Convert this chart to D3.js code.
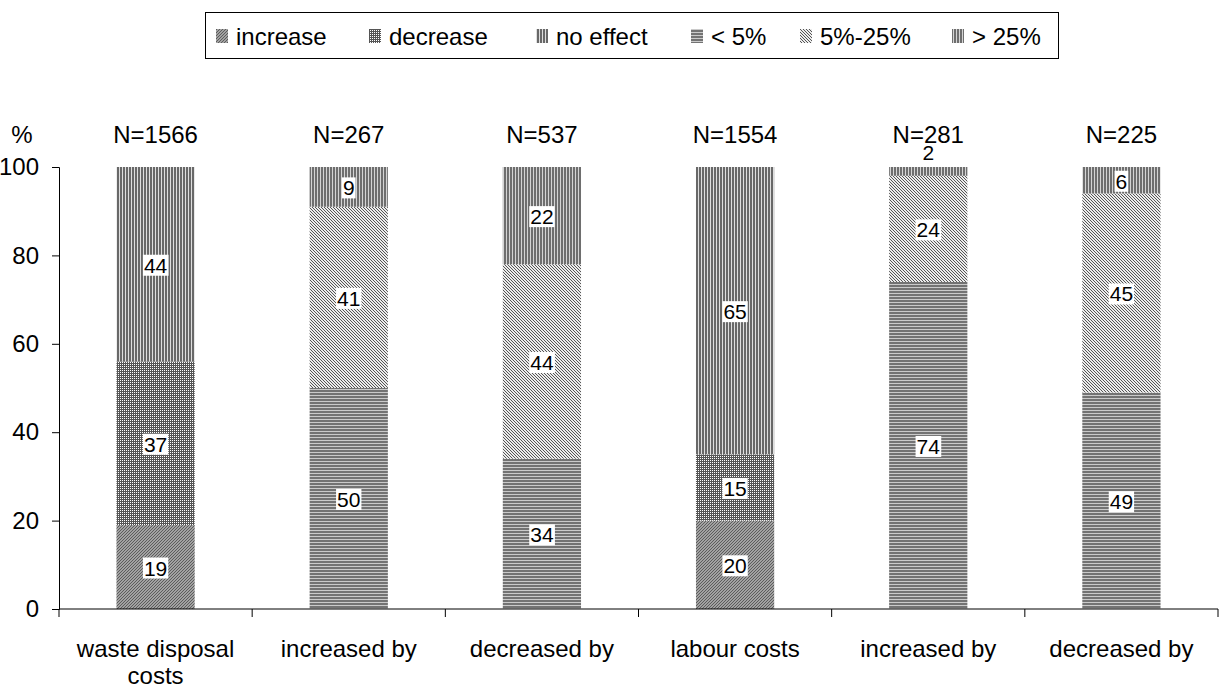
<!DOCTYPE html>
<html>
<head>
<meta charset="utf-8">
<style>
  body { margin: 0; background: #fff; }
  svg text { font-family: "Liberation Sans", Arial, sans-serif; fill: #000; }
</style>
</head>
<body>
<div id="container"></div>
<script src="https://cdn.jsdelivr.net/npm/d3@7"></script>
<script>
// categories along the x axis
const categories = ["waste disposal costs", "increased by", "decreased by", "labour costs", "increased by", "decreased by"];
const sampleN = [1566, 267, 537, 1554, 281, 225];

// legend / series keys
const seriesKeys = ["increase", "decrease", "no effect", "< 5%", "5%-25%", "> 25%"];

// which series each bar stacks (bottom to top)
const barSeries = [
  ["increase", "decrease", "no effect"],
  ["< 5%", "5%-25%", "> 25%"],
  ["< 5%", "5%-25%", "> 25%"],
  ["increase", "decrease", "no effect"],
  ["< 5%", "5%-25%", "> 25%"],
  ["< 5%", "5%-25%", "> 25%"]
];
const barValues = [
  [19, 37, 44],
  [50, 41, 9],
  [34, 44, 22],
  [20, 15, 65],
  [74, 24, 2],
  [49, 45, 6]
];
const yTicks = [0, 20, 40, 60, 80, 100];

const width = 1220, height = 686;
const margin = { left: 59, right: 2, top: 167, bottom: 77 };

const svg = d3.select("#container").append("svg")
  .attr("width", width).attr("height", height);

// fill patterns, one per series
const defs = svg.append("defs");
function pat(id, w, h, bg) {
  const p = defs.append("pattern").attr("id", id)
    .attr("patternUnits", "userSpaceOnUse").attr("width", w).attr("height", h);
  p.append("rect").attr("width", w).attr("height", h).attr("fill", bg);
  return p;
}
// increase: fine /// diagonal
let p = pat("p0", 3, 3, "#a2a2a2");
p.append("path").attr("d", "M0,3 L3,0 M-1,1 L1,-1 M2,4 L4,2").attr("stroke", "#5c5c5c").attr("stroke-width", 1);
// decrease: checker dots
p = pat("p1", 2, 2, "#555");
p.append("rect").attr("width", 1).attr("height", 1).attr("fill", "#fff");
// no effect: vertical stripes
p = pat("p2", 3, 3, "#686868");
p.append("rect").attr("x", 2).attr("width", 1).attr("height", 3).attr("fill", "#dedede");
// < 5%: horizontal stripes
p = pat("p3", 3, 3, "#737373");
p.append("rect").attr("y", 2).attr("width", 3).attr("height", 1).attr("fill", "#cacaca");
// 5%-25%: \\\ diagonal, lighter
p = pat("p4", 3, 3, "#ececec");
p.append("path").attr("d", "M0,0 L3,3 M-1,2 L1,4 M2,-1 L4,1").attr("stroke", "#555").attr("stroke-width", 1);
// > 25%: vertical stripes
p = pat("p5", 3, 3, "#6e6e6e");
p.append("rect").attr("x", 2).attr("width", 1).attr("height", 3).attr("fill", "#d4d4d4");

const fillOf = k => `url(#p${seriesKeys.indexOf(k)})`;

const x = d3.scaleBand()
  .domain(d3.range(categories.length))
  .range([margin.left, width - margin.right])
  .paddingInner(0).paddingOuter(0);
const barW = x.bandwidth() * 0.405;

const y = d3.scaleLinear().domain([0, 100]).range([height - margin.bottom, margin.top]);

// bars
categories.forEach((c, i) => {
  const cx = x(i) + x.bandwidth() / 2;
  let acc = 0;
  const segs = barValues[i].map((v, j) => {
    const s = { key: barSeries[i][j], v, y0: acc, y1: acc + v };
    acc += v;
    return s;
  });
  const g = svg.append("g");
  g.selectAll("rect").data(segs).enter().append("rect")
    .attr("x", cx - barW / 2)
    .attr("width", barW)
    .attr("y", d => y(d.y1))
    .attr("height", d => y(d.y0) - y(d.y1))
    .attr("fill", d => fillOf(d.key));

  // value labels
  segs.forEach(d => {
    const small = d.v < 4;
    const ly = small ? y(100) - 15 : (y(d.y0) + y(d.y1)) / 2 + 1;
    const t = g.append("text")
      .attr("x", cx).attr("y", ly)
      .attr("text-anchor", "middle").attr("dominant-baseline", "central")
      .style("font-size", "21px").text(d.v);
    const bb = t.node().getBBox();
    if (!small) {
      g.insert("rect", () => t.node())
        .attr("x", bb.x - 1).attr("y", bb.y + 1)
        .attr("width", bb.width + 2).attr("height", bb.height - 2)
        .attr("fill", "#fff");
    }
  });

  // N labels
  svg.append("text").attr("x", cx).attr("y", 134)
    .attr("text-anchor", "middle").attr("dominant-baseline", "central")
    .style("font-size", "24px").text("N=" + sampleN[i]);
});

// y axis
const yAxis = d3.axisLeft(y).tickValues(yTicks).tickSize(7).tickPadding(13);
const ya = svg.append("g").attr("transform", `translate(${margin.left},0)`).call(yAxis);
ya.select(".domain").attr("stroke", "#000");
ya.selectAll(".tick line").attr("stroke", "#000");
ya.selectAll("text").style("font-size", "24px").style("font-family", "Liberation Sans, Arial, sans-serif");

svg.append("text").attr("x", 22).attr("y", 134)
  .attr("text-anchor", "middle").attr("dominant-baseline", "central")
  .style("font-size", "24px").text("%");

// x axis
const xa = svg.append("g").attr("transform", `translate(0,${y(0)})`);
xa.append("line").attr("x1", margin.left).attr("x2", width - margin.right).attr("stroke", "#000");
const xt = d3.range(categories.length + 1).map(i => margin.left + i * x.bandwidth());
xa.selectAll("line.t").data(xt).enter().append("line").attr("class", "t")
  .attr("x1", d => d).attr("x2", d => d).attr("y1", 0).attr("y2", 8).attr("stroke", "#000");

const lines = [["waste disposal", "costs"], ["increased by"], ["decreased by"], ["labour costs"], ["increased by"], ["decreased by"]];
categories.forEach((c, i) => {
  const t = xa.append("text").attr("x", x(i) + x.bandwidth() / 2).attr("y", 39)
    .attr("text-anchor", "middle").attr("dominant-baseline", "central")
    .style("font-size", "24px");
  lines[i].forEach((ln, k) => {
    t.append("tspan").attr("x", x(i) + x.bandwidth() / 2).attr("dy", k === 0 ? 0 : 27).text(ln);
  });
});

// legend
const legend = svg.append("g");
legend.append("rect").attr("x", 205.5).attr("y", 12.5).attr("width", 853).attr("height", 46)
  .attr("fill", "#fff").attr("stroke", "#000");
const legX = [216, 369, 536, 691, 800, 952];
seriesKeys.forEach((k, i) => {
  legend.append("rect").attr("x", legX[i]).attr("y", 29).attr("width", 12).attr("height", 14)
    .attr("fill", fillOf(k));
  legend.append("text").attr("x", legX[i] + 20).attr("y", 36)
    .attr("dominant-baseline", "central").style("font-size", "24px").text(k);
});
</script>
</body>
</html>
